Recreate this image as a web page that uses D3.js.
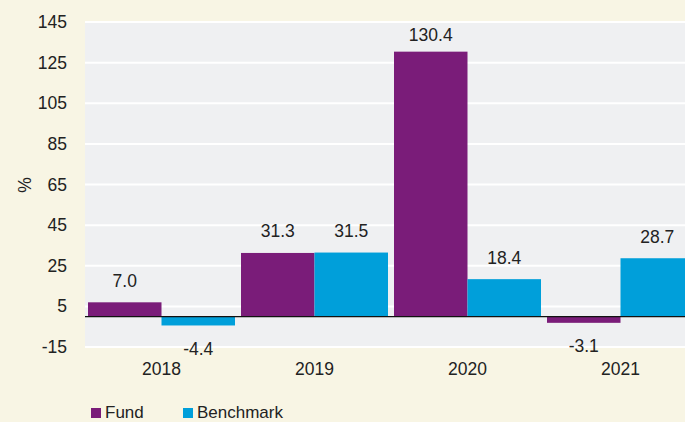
<!DOCTYPE html>
<html>
<head>
<meta charset="utf-8">
<script src="https://cdn.jsdelivr.net/npm/d3@7"></script>
<style>
  html, body { margin: 0; padding: 0; background: #f8f5e4; }
  svg { display: block; font-family: "Liberation Sans", Arial, Helvetica, sans-serif; }
</style>
</head>
<body>
<div id="chart"></div>
<script>
/* Fund vs Benchmark annual returns */

const years = ['2018', '2019', '2020', '2021'];
const seriesNames = ['Fund', 'Benchmark'];
const fundValues = [7.0, 31.3, 130.4, -3.1];
const benchmarkValues = [-4.4, 31.5, 18.4, 28.7];
const yTicks = [145, 125, 105, 85, 65, 45, 25, 5, -15];

const COLORS = { Fund: '#7a1c79', Benchmark: '#009fda' };

const width = 685;
const height = 422;
const plot = { left: 85, right: 697, top: 22, bottom: 347 };

const rows = years.map((year, i) => ({
  year,
  values: [
    { key: 'Fund', value: fundValues[i] },
    { key: 'Benchmark', value: benchmarkValues[i] },
  ],
}));

const svg = d3.select('#chart')
  .append('svg')
  .attr('width', width)
  .attr('height', height);

const x0 = d3.scaleBand()
  .domain(years)
  .range([plot.left, plot.right])
  .paddingInner(6 / 153)
  .paddingOuter(3 / 153);

const x1 = d3.scaleBand()
  .domain(seriesNames)
  .range([0, x0.bandwidth()]);

const y = d3.scaleLinear()
  .domain([-15, 145])
  .range([plot.bottom, plot.top]);

// Plot background
svg.append('rect')
  .attr('x', plot.left)
  .attr('y', plot.top)
  .attr('width', plot.right - plot.left)
  .attr('height', plot.bottom - plot.top)
  .attr('fill', '#eff0f2');

// Gridlines
svg.append('g')
  .selectAll('line')
  .data(yTicks)
  .join('line')
  .attr('x1', plot.left)
  .attr('x2', plot.right)
  .attr('y1', d => y(d))
  .attr('y2', d => y(d))
  .attr('stroke', '#ffffff')
  .attr('stroke-width', 2);

// Y axis labels (plain hyphen for negatives)
const yAxis = svg.append('g')
  .attr('transform', `translate(${plot.left},0)`)
  .call(d3.axisLeft(y).tickValues(yTicks).tickFormat(d => String(d)).tickSize(0).tickPadding(18));
yAxis.select('.domain').remove();
yAxis.selectAll('text')
  .attr('font-size', 17.5)
  .attr('font-family', '"Liberation Sans", Arial, sans-serif')
  .attr('fill', '#222');

svg.append('text')
  .attr('transform', 'translate(31,185) rotate(-90)')
  .attr('text-anchor', 'middle')
  .attr('font-size', 17.5)
  .attr('fill', '#222')
  .text('%');

// Bars
const groups = svg.append('g')
  .selectAll('g')
  .data(rows)
  .join('g')
  .attr('transform', d => `translate(${x0(d.year)},0)`);

groups.selectAll('rect')
  .data(d => d.values)
  .join('rect')
  .attr('x', d => x1(d.key))
  .attr('width', x1.bandwidth())
  .attr('y', d => y(Math.max(0, d.value)))
  .attr('height', d => Math.abs(y(d.value) - y(0)))
  .attr('fill', d => COLORS[d.key]);

// Value labels
groups.selectAll('text')
  .data(d => d.values)
  .join('text')
  .attr('x', d => x1(d.key) + x1.bandwidth() / 2)
  .attr('y', d => d.value >= 0
    ? Math.max(y(d.value) - 15.5, plot.top + 19)
    : y(d.value) + 29.5)
  .attr('text-anchor', 'middle')
  .attr('font-size', 17.5)
  .attr('fill', '#222')
  .text(d => d.value.toFixed(1));

// Zero line
svg.append('line')
  .attr('x1', plot.left)
  .attr('x2', plot.right)
  .attr('y1', y(0))
  .attr('y2', y(0))
  .attr('stroke', '#111')
  .attr('stroke-width', 1.2);

// X axis labels
const xAxis = svg.append('g')
  .attr('transform', `translate(0,${plot.bottom})`)
  .call(d3.axisBottom(x0).tickSize(0).tickPadding(16));
xAxis.select('.domain').remove();
xAxis.selectAll('text')
  .attr('font-size', 17.5)
  .attr('font-family', '"Liberation Sans", Arial, sans-serif')
  .attr('fill', '#222');

// Legend
const legendX = [91, 183];
const legend = svg.append('g')
  .selectAll('g')
  .data(seriesNames)
  .join('g')
  .attr('transform', (d, i) => `translate(${legendX[i]},408)`);

legend.append('rect')
  .attr('width', 10)
  .attr('height', 10)
  .attr('fill', d => COLORS[d]);

legend.append('text')
  .attr('x', 14)
  .attr('y', 10)
  .attr('font-size', 17)
  .attr('fill', '#222')
  .text(d => d);
</script>
</body>
</html>
